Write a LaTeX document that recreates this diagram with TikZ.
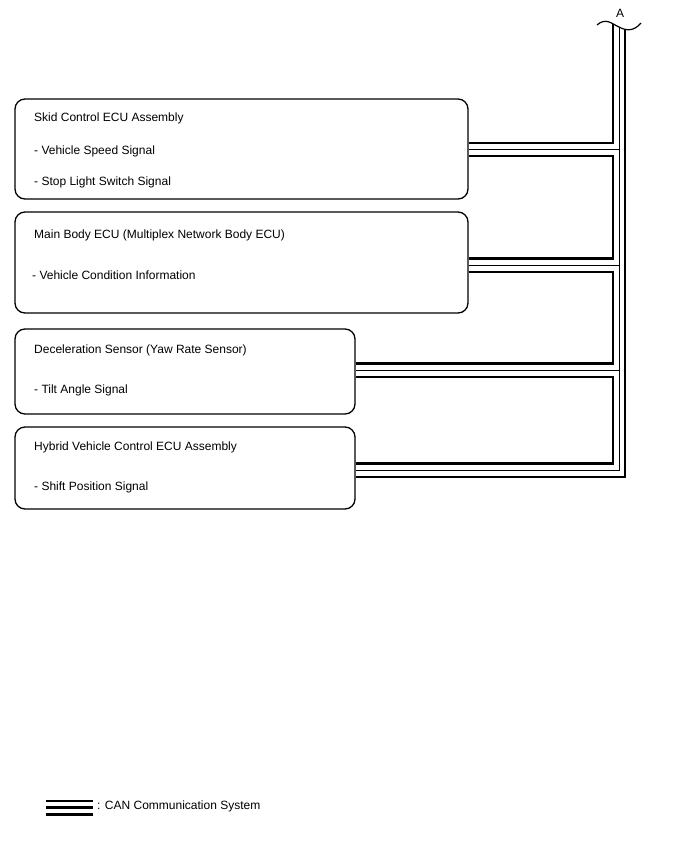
\documentclass[tikz,border=0pt]{standalone}
\usepackage{fontspec}
\setmainfont{Liberation Sans}
\usetikzlibrary{positioning}

\begin{document}
\begin{tikzpicture}[x=1pt, y=-1pt,
    ecubox/.style={draw, rounded corners=10pt, line width=1.3pt},
    ecutext/.style={anchor=base west, inner sep=0pt, font=\fontsize{12}{14}\selectfont},
    canthick/.style={line width=2.4pt},
    canthin/.style={line width=1pt}]
\useasboundingbox (0,0) rectangle (688,852);

\def\busL{612.7}
\def\busM{619.3}
\def\busR{625}

    % ECU boxes
    \node[ecubox, minimum width=453, minimum height=100] (b1) at (241.5,149) {};
    \node[ecubox, minimum width=453, minimum height=101] (b2) at (241.5,262.5) {};
    \node[ecubox, minimum width=340, minimum height=85] (b3) at (185,371.5) {};
    \node[ecubox, minimum width=340, minimum height=82] (b4) at (185,468) {};

    \node[ecutext] (t11) at (34,121.5) {Skid Control ECU Assembly};
    \node[ecutext] (t12) at (34,154.5) {- Vehicle Speed Signal};
    \node[ecutext] (t13) at (34,185.5) {- Stop Light Switch Signal};
    \node[ecutext] (t21) at (34,238.5) {Main Body ECU (Multiplex Network Body ECU)};
    \node[ecutext] (t22) at (32,279.5) {- Vehicle Condition Information};
    \node[ecutext] (t31) at (34,353.5) {Deceleration Sensor (Yaw Rate Sensor)};
    \node[ecutext] (t32) at (34,393.5) {- Tilt Angle Signal};
    \node[ecutext] (t41) at (34,450.5) {Hybrid Vehicle Control ECU Assembly};
    \node[ecutext] (t42) at (34,490.5) {- Shift Position Signal};

    % break mark
    \draw[line width=1.2pt] (597,25) .. controls (606,17) and (612,24) .. (619,27)
        .. controls (628,32) and (635,30) .. (641,23);
    \node[ecutext, anchor=center] (labA) at (620,13) {A};

    % CAN bus
    \draw[canthick] (\busL,23.5) -- (\busL,142.7) -- (b1.east |- 0,142.7);
    \draw[canthin] (\busM,27) -- (\busM,470.7) -- (b4.east |- 0,470.7);
    \draw[canthick] (\busR,29.5) -- (\busR,476.7) -- (b4.east |- 0,476.7);
    \foreach \n/\y in {b1/149.3, b2/265, b3/370}
    {
      \draw[canthin] (\n.east |- 0,\y) -- (\busM,\y);
    }
    \foreach \from/\ya/\to/\yb in {b1/156/b2/258.3, b2/271.7/b3/363.3, b3/376.7/b4/463.3}
    {
      \draw[canthick] (\from.east |- 0,\ya) -| (\busL,\yb) -- (\to.east |- 0,\yb);
    }

    % legend
    \foreach \y in {800.7,807.3,814.3}
    {
      \draw[canthick] (45.7,\y) -- (93.3,\y);
    }
    \node[ecutext] (legend) at (97,809.5) {: CAN Communication System};
\end{tikzpicture}
\end{document}
